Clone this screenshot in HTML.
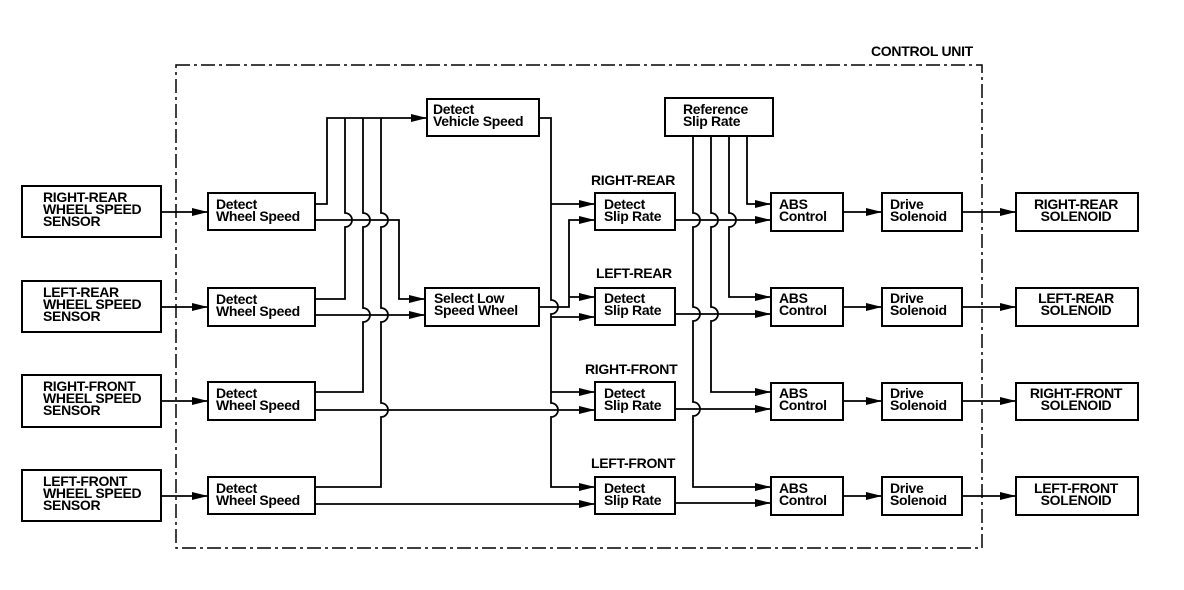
<!DOCTYPE html>
<html><head><meta charset="utf-8"><style>
html,body{margin:0;padding:0;background:#fff;}
svg{display:block;}
text{font-family:"Liberation Sans",Arial,sans-serif;font-weight:bold;font-size:14px;fill:#000;letter-spacing:-0.3px;}
</style></head><body>
<svg width="1184" height="590" viewBox="0 0 1184 590" xmlns="http://www.w3.org/2000/svg">
<defs>
<marker id="a" markerWidth="16" markerHeight="10" refX="16" refY="5" orient="auto" markerUnits="userSpaceOnUse"><path d="M0,1 L16,5 L0,9 Z" fill="#000"/></marker>
</defs>
<rect x="176" y="65" width="806" height="483" fill="none" stroke="#000" stroke-width="1.5" stroke-dasharray="14,4,3,4"/>
<text x="871" y="56">CONTROL UNIT</text>
<g fill="#fff" stroke="#000" stroke-width="2">
<rect x="22" y="186" width="139" height="51"/>
<rect x="22" y="281" width="139" height="51"/>
<rect x="22" y="375" width="139" height="52"/>
<rect x="22" y="470" width="139" height="51"/>
<rect x="208" y="193" width="107" height="37"/>
<rect x="208" y="288" width="107" height="38"/>
<rect x="208" y="382" width="107" height="38"/>
<rect x="208" y="477" width="107" height="37"/>
<rect x="427" y="99" width="112" height="37"/>
<rect x="425" y="288" width="114" height="38"/>
<rect x="665" y="98" width="108" height="38"/>
<rect x="595" y="193" width="80" height="37"/>
<rect x="595" y="288" width="80" height="37"/>
<rect x="595" y="382" width="80" height="38"/>
<rect x="595" y="477" width="80" height="37"/>
<rect x="771" y="193" width="72" height="38"/>
<rect x="771" y="288" width="72" height="38"/>
<rect x="771" y="383" width="72" height="37"/>
<rect x="771" y="477" width="72" height="38"/>
<rect x="882" y="193" width="80" height="38"/>
<rect x="882" y="288" width="80" height="38"/>
<rect x="882" y="383" width="80" height="37"/>
<rect x="882" y="477" width="80" height="38"/>
<rect x="1016" y="193" width="122" height="38"/>
<rect x="1016" y="288" width="122" height="38"/>
<rect x="1016" y="383" width="122" height="37"/>
<rect x="1016" y="477" width="122" height="38"/>
</g>
<g fill="none" stroke="#000" stroke-width="1.8">
<path d="M161 212 H208" marker-end="url(#a)"/>
<path d="M161 307 H208" marker-end="url(#a)"/>
<path d="M161 401 H208" marker-end="url(#a)"/>
<path d="M161 496 H208" marker-end="url(#a)"/>
<path d="M315 204 H327 V118 H427" marker-end="url(#a)"/>
<path d="M315 299 H345 V227 a7 7 0 0 0 0 -14 V118"/>
<path d="M315 392 H363 V322 a7 7 0 0 0 0 -14 V227 a7 7 0 0 0 0 -14 V118"/>
<path d="M315 487 H381 V417 a7 7 0 0 0 0 -14 V322 a7 7 0 0 0 0 -14 V227 a7 7 0 0 0 0 -14 V118"/>
<path d="M315 220 H399 V299 H425" marker-end="url(#a)"/>
<path d="M315 315 H425" marker-end="url(#a)"/>
<path d="M315 410 H595" marker-end="url(#a)"/>
<path d="M315 504 H595" marker-end="url(#a)"/>
<path d="M539 118 H551 V300 a7 7 0 0 1 0 14 V403 a7 7 0 0 1 0 14 V487 H595" marker-end="url(#a)"/>
<path d="M551 204 H595" marker-end="url(#a)"/>
<path d="M551 317 H595" marker-end="url(#a)"/>
<path d="M551 392 H595" marker-end="url(#a)"/>
<path d="M539 307 H569 V220 H595" marker-end="url(#a)"/>
<path d="M569 297 H595" marker-end="url(#a)"/>
<path d="M747 136 V204 H771" marker-end="url(#a)"/>
<path d="M729 136 V213 a7 7 0 0 1 0 14 V297 H771" marker-end="url(#a)"/>
<path d="M711 136 V213 a7 7 0 0 1 0 14 V307 a7 7 0 0 1 0 14 V392 H771" marker-end="url(#a)"/>
<path d="M693 136 V213 a7 7 0 0 1 0 14 V307 a7 7 0 0 1 0 14 V402 a7 7 0 0 1 0 14 V487 H771" marker-end="url(#a)"/>
<path d="M675 220 H771" marker-end="url(#a)"/>
<path d="M675 314 H771" marker-end="url(#a)"/>
<path d="M675 409 H771" marker-end="url(#a)"/>
<path d="M675 503 H771" marker-end="url(#a)"/>
<path d="M843 212 H882" marker-end="url(#a)"/>
<path d="M843 307 H882" marker-end="url(#a)"/>
<path d="M843 401 H882" marker-end="url(#a)"/>
<path d="M843 496 H882" marker-end="url(#a)"/>
<path d="M962 212 H1016" marker-end="url(#a)"/>
<path d="M962 307 H1016" marker-end="url(#a)"/>
<path d="M962 401 H1016" marker-end="url(#a)"/>
<path d="M962 496 H1016" marker-end="url(#a)"/>
</g>
<text x="43" y="202">RIGHT-REAR</text><text x="43" y="214">WHEEL SPEED</text><text x="43" y="226">SENSOR</text>
<text x="43" y="297">LEFT-REAR</text><text x="43" y="309">WHEEL SPEED</text><text x="43" y="321">SENSOR</text>
<text x="43" y="391">RIGHT-FRONT</text><text x="43" y="403">WHEEL SPEED</text><text x="43" y="415">SENSOR</text>
<text x="43" y="486">LEFT-FRONT</text><text x="43" y="498">WHEEL SPEED</text><text x="43" y="510">SENSOR</text>
<text x="216" y="209">Detect</text><text x="216" y="221">Wheel Speed</text>
<text x="216" y="304">Detect</text><text x="216" y="316">Wheel Speed</text>
<text x="216" y="398">Detect</text><text x="216" y="410">Wheel Speed</text>
<text x="216" y="493">Detect</text><text x="216" y="505">Wheel Speed</text>
<text x="433" y="114">Detect</text><text x="433" y="126">Vehicle Speed</text>
<text x="434" y="303">Select Low</text><text x="434" y="315">Speed Wheel</text>
<text x="683" y="114">Reference</text><text x="683" y="126">Slip Rate</text>
<text x="591" y="185">RIGHT-REAR</text>
<text x="596" y="278">LEFT-REAR</text>
<text x="585" y="374">RIGHT-FRONT</text>
<text x="591" y="468">LEFT-FRONT</text>
<text x="604" y="209">Detect</text><text x="604" y="221">Slip Rate</text>
<text x="604" y="303">Detect</text><text x="604" y="315">Slip Rate</text>
<text x="604" y="398">Detect</text><text x="604" y="410">Slip Rate</text>
<text x="604" y="493">Detect</text><text x="604" y="505">Slip Rate</text>
<text x="779" y="209">ABS</text><text x="779" y="221">Control</text>
<text x="779" y="303">ABS</text><text x="779" y="315">Control</text>
<text x="779" y="398">ABS</text><text x="779" y="410">Control</text>
<text x="779" y="493">ABS</text><text x="779" y="505">Control</text>
<text x="890" y="209">Drive</text><text x="890" y="221">Solenoid</text>
<text x="890" y="303">Drive</text><text x="890" y="315">Solenoid</text>
<text x="890" y="398">Drive</text><text x="890" y="410">Solenoid</text>
<text x="890" y="493">Drive</text><text x="890" y="505">Solenoid</text>
<g text-anchor="middle">
<text x="1076" y="209">RIGHT-REAR</text><text x="1076" y="221">SOLENOID</text>
<text x="1076" y="303">LEFT-REAR</text><text x="1076" y="315">SOLENOID</text>
<text x="1076" y="398">RIGHT-FRONT</text><text x="1076" y="410">SOLENOID</text>
<text x="1076" y="493">LEFT-FRONT</text><text x="1076" y="505">SOLENOID</text>
</g>
</svg>
</body></html>
